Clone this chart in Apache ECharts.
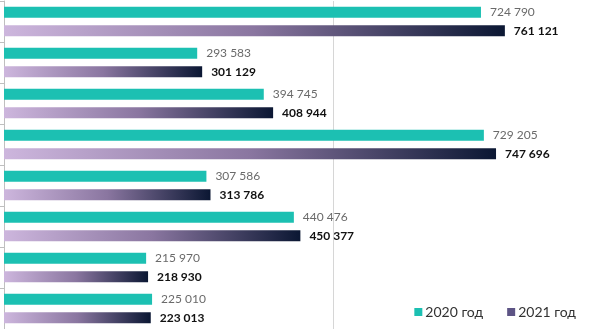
<!doctype html>
<html>
<head>
<meta charset="utf-8">
<title>chart</title>
<script type="text/javascript" src="https://cdn.jsdelivr.net/npm/echarts@6/dist/echarts.min.js"></script>
</head>

<body style="margin:0;padding:0">
<div id="tb" style="width:591px;height:329px;"></div>
<script>
// data
var categories = ['1', '2', '3', '4', '5', '6', '7', '8'];
var values2020 = [724790, 293583, 394745, 729205, 307586, 440476, 215970, 225010];
var values2021 = [761121, 301129, 408944, 747696, 313786, 450377, 218930, 223013];
var seriesNames = ['2020 год', '2021 год'];
var xTicks = [0, 500000];
var xMax = 892000; // 画面右边缘处的数值（图被裁切）

// 724790 -> "724 790"
var fmt = function (p) {
    return String(p.value).replace(/\B(?=(\d{3})+(?!\d))/g, ' ');
};

var bt = document.getElementById('tb');
var btchart = echarts.init(bt);

btchart.setOption({
    animation: false,
    textStyle: { fontFamily: 'Lato' },
    legend: {
        right: 10,
        top: 300,
        itemWidth: 8,
        itemHeight: 8,
        itemGap: 24,
        icon: 'rect',
        textStyle: { fontSize: 14, color: '#333', fontFamily: 'Lato', padding: [0, 0, 0, -2] },
        data: [
            { name: seriesNames[0], itemStyle: { color: '#1cc0b2' } },
            { name: seriesNames[1], itemStyle: { color: '#5d5485' } }
        ]
    },
    grid: {
        left: 4,
        right: 0,
        top: 1,
        bottom: 0,
        containLabel: false
    },
    xAxis: {
        type: 'value',
        min: xTicks[0],
        max: xMax,
        interval: xTicks[1] - xTicks[0],
        axisLabel: { show: false },
        axisLine: { show: false },
        axisTick: { show: false },
        splitLine: { show: true, lineStyle: { color: '#d6d6d6', width: 1 } }
    },
    yAxis: {
        type: 'category',
        inverse: true,
        data: categories,
        axisLabel: { show: false },
        axisLine: { show: true, lineStyle: { color: '#bfbfbf' } },
        axisTick: { show: true, inside: false, length: 4, lineStyle: { color: '#bfbfbf' } }
    },
    series: [
        {
            name: seriesNames[0],
            type: 'bar',
            data: values2020,
            barWidth: 11,
            barGap: '70%',
            itemStyle: { color: '#1cc0b2' },
            label: {
                show: true,
                position: 'right',
                distance: 9,
                formatter: fmt,
                fontSize: 12,
                color: '#6a6a6a',
                fontFamily: 'Lato'
            }
        },
        {
            name: seriesNames[1],
            type: 'bar',
            data: values2021,
            barWidth: 11,
            itemStyle: {
                color: new echarts.graphic.LinearGradient(0, 0, 1, 0, [
                    { offset: 0, color: '#cdb6dd' },
                    { offset: 0.5, color: '#8a76a0' },
                    { offset: 1, color: '#0b1733' }
                ])
            },
            label: {
                show: true,
                position: 'right',
                distance: 9,
                formatter: fmt,
                fontSize: 12,
                fontWeight: 'bold',
                color: '#111',
                fontFamily: 'Lato'
            }
        }
    ]
});
</script>
</body>
</html>
